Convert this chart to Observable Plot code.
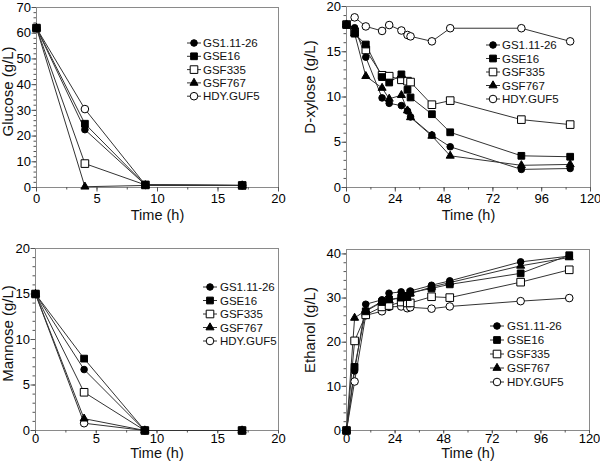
<!DOCTYPE html>
<html><head><meta charset="utf-8">
<script src="https://cdn.jsdelivr.net/npm/d3@7"></script>
<script src="https://cdn.jsdelivr.net/npm/@observablehq/plot@0.6"></script>
<style>
body{margin:0;background:#fff;}
#wrap{position:relative;width:600px;height:467px;overflow:hidden;}
.p{position:absolute;}
</style></head><body><div id="wrap"></div>
<script>
const FONT = "'Liberation Sans', Arial, sans-serif";
const series = ["GS1.11-26", "GSE16", "GSF335", "GSF767", "HDY.GUF5"];

// sampling times (h)
const timeShort = [0, 4, 9, 17];
const timeLong = [0, 4, 9.5, 17.5, 21, 27, 30, 31.5, 42, 51, 86, 110];

// rows in the order of `series`
const glucose = [
  [62, 22.5, 1.0, 0.8],
  [62, 24.8, 1.0, 0.8],
  [62, 9.3, 1.0, 0.8],
  [62, 0.3, 0.8, 0.8],
  [62, 30.5, 1.0, 0.8]
];
const mannose = [
  [15, 6.7, 0, 0],
  [15, 7.9, 0, 0],
  [15, 4.2, 0, 0],
  [15, 1.3, 0, 0],
  [15, 0.8, 0, 0]
];
const xylose = [
  [18, 17.65, 14.4, 9.9, 9.3, 9.05, 8.45, 7.8, 5.8, 4.5, 2.0, 2.1],
  [18, 17.0, 15.8, 12.2, 11.6, 12.5, 10.8, 9.95, 8.1, 6.1, 3.5, 3.4],
  [18, 17.2, 15.2, 12.4, 12.3, 11.9, 11.75, 11.65, 9.15, 9.6, 7.5, 6.95],
  [18, 17.0, 12.3, 11.0, 9.8, 10.2, 8.5, 7.75, 5.7, 3.5, 2.45, 2.55],
  [18, 18.8, 17.8, 17.3, 17.95, 17.35, 16.85, 16.7, 16.15, 17.6, 17.6, 16.15]
];
const ethanol = [
  [0, 13.5, 28.6, 29.6, 31.1, 31.4, 30.6, 31.6, 32.9, 33.9, 38.2, 39.5],
  [0, 14.4, 27.0, 29.1, 29.7, 30.1, 30.5, 31.2, 32.2, 33.1, 35.6, 39.7],
  [0, 20.3, 26.2, 28.0, 28.3, 29.1, 28.9, 28.9, 30.3, 30.1, 33.6, 36.4],
  [0, 25.5, 27.2, 29.2, 29.5, 30.1, 30.0, 31.0, 32.5, 33.5, 37.3, 39.2],
  [0, 11.1, 26.1, 27.0, 28.0, 28.1, 27.7, 27.9, 27.6, 28.1, 29.3, 30.0]
];

// marker styles per series
const symbols = ["circle", "square", "square", "triangle", "circle"];
const d3symbols = [d3.symbolCircle, d3.symbolSquare, d3.symbolSquare, d3.symbolTriangle, d3.symbolCircle];
const fills = ["#000", "#000", "#fff", "#000", "#fff"];
const radii = [3.3, 3.8, 4.3, 3, 3.8];
const drawOrder = [4, 2, 3, 0, 1];

function toLong(times, rows) {
  return rows.flatMap((row, i) => row.map((v, j) => ({s: i, t: times[j], v})));
}

function legendMark(cfg) {
  return () => {
    const g = d3.create("svg:g").attr("font-family", FONT).attr("font-size", 11.5);
    series.forEach((name, i) => {
      const y = cfg.y + i * cfg.step;
      g.append("line").attr("x1", cfg.x - 7).attr("x2", cfg.x + 7)
        .attr("y1", y).attr("y2", y).attr("stroke", "#333").attr("stroke-width", 1);
      g.append("path").attr("transform", `translate(${cfg.x},${y})`)
        .attr("d", d3.symbol(d3symbols[i], Math.PI * radii[i] * radii[i])())
        .attr("fill", fills[i]).attr("stroke", "#000").attr("stroke-width", 1);
      g.append("text").attr("x", cfg.tx).attr("y", y).attr("dy", "0.35em")
        .attr("text-anchor", "start").attr("fill", "#111").text(name);
    });
    return g.node();
  };
}

function panel(o) {
  const data = toLong(o.times, o.rows);
  const marks = [
    Plot.frame({stroke: "#8a8a8a"}),
    Plot.axisX({ticks: o.xMinor, tickSize: 2.5, tickFormat: () => "", label: null, stroke: "#555"}),
    Plot.axisY({ticks: o.yMinor, tickSize: 2.5, tickFormat: () => "", label: null, stroke: "#555"}),
    Plot.axisX({ticks: o.xTicks, tickSize: o.xTick, tickPadding: o.xPad, label: null, stroke: "#555", fill: "#000", fontSize: 13}),
    Plot.axisY({ticks: o.yTicks, tickSize: 4.5, tickPadding: 1, label: null, stroke: "#555", fill: "#000", fontSize: 13}),
    Plot.text([o.xLabel], {frameAnchor: "bottom", dy: o.xLabelDy, fontSize: 14.5, fill: "#111", lineAnchor: "middle"}),
    Plot.text([o.yLabel], {frameAnchor: "left", dx: o.yLabelDx, dy: o.yLabelDy, rotate: -90, textAnchor: "middle", fontSize: 15, fill: "#111"})
  ];
  for (const i of drawOrder) {
    const d = data.filter(r => r.s === i);
    marks.push(Plot.line(d, {x: "t", y: "v", stroke: "#333", strokeWidth: 1}));
  }
  for (const i of drawOrder) {
    const d = data.filter(r => r.s === i);
    marks.push(Plot.dot(d, {x: "t", y: "v", symbol: () => symbols[i], r: radii[i], fill: fills[i], stroke: "#000", strokeWidth: 1}));
  }
  marks.push(legendMark(o.legend));
  const chart = Plot.plot({
    width: 300, height: o.height,
    marginLeft: o.ml, marginRight: o.mr, marginTop: o.mt, marginBottom: o.mb,
    style: {fontFamily: FONT, background: "#fff", overflow: "visible"},
    x: {domain: o.xDomain},
    y: {domain: o.yDomain},
    symbol: {type: "identity"},
    marks
  });
  const div = document.createElement("div");
  div.className = "p";
  div.style.left = o.left + "px";
  div.style.top = o.top + "px";
  div.appendChild(chart);
  document.getElementById("wrap").appendChild(div);
}

const range = (a, b, s) => d3.range(a, b + s / 2, s);

panel({
  left: 0, top: 0, height: 234, ml: 36, mr: 22, mt: 7, mb: 47,
  times: timeShort, rows: glucose,
  xDomain: [0, 20], xTicks: range(0, 20, 5), xMinor: range(0, 20, 2.5),
  yDomain: [0, 70], yTicks: range(0, 70, 10), yMinor: range(0, 70, 2),
  xLabel: "Time (h)", yLabel: "Glucose (g/L)", xTick: 4.5, xPad: 2, xLabelDy: 28, yLabelDx: -28, yLabelDy: -6,
  legend: {x: 194, tx: 203, y: 43, step: 13.3}
});
panel({
  left: 300, top: 0, height: 234, ml: 46, mr: 10, mt: 6, mb: 47,
  times: timeLong, rows: xylose,
  xDomain: [0, 120], xTicks: range(0, 120, 24), xMinor: range(0, 120, 12),
  yDomain: [0, 20], yTicks: range(0, 20, 5), yMinor: range(0, 20, 1),
  xLabel: "Time (h)", yLabel: "D-xylose (g/L)", xTick: 4.5, xPad: 2, xLabelDy: 28, yLabelDx: -36, yLabelDy: -10,
  legend: {x: 193, tx: 202, y: 45, step: 13.5}
});
panel({
  left: 0, top: 234, height: 233, ml: 35, mr: 22, mt: 14, mb: 37,
  times: timeShort, rows: mannose,
  xDomain: [0, 20], xTicks: range(0, 20, 5), xMinor: range(0, 20, 2.5),
  yDomain: [0, 20], yTicks: range(0, 20, 5), yMinor: range(0, 20, 1),
  xLabel: "Time (h)", yLabel: "Mannose (g/L)", xTick: 3.5, xPad: 0, xLabelDy: 23, yLabelDx: -27, yLabelDy: -6,
  legend: {x: 210, tx: 220, y: 53, step: 13.5}
});
panel({
  left: 300, top: 234, height: 233, ml: 46, mr: 11, mt: 15, mb: 37,
  times: timeLong, rows: ethanol,
  xDomain: [0, 120], xTicks: range(0, 120, 24), xMinor: range(0, 120, 12),
  yDomain: [0, 41], yTicks: range(0, 40, 10), yMinor: range(0, 40, 2),
  xLabel: "Time (h)", yLabel: "Ethanol (g/L)", xTick: 3.5, xPad: 0, xLabelDy: 23, yLabelDx: -36, yLabelDy: -10,
  legend: {x: 197, tx: 207, y: 92, step: 14}
});
</script></body></html>
